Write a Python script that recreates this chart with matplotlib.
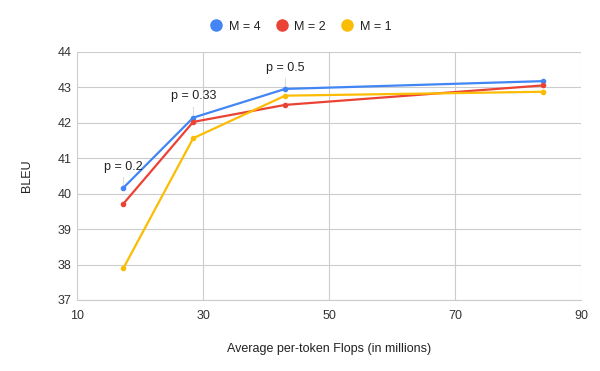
import matplotlib.pyplot as plt
from matplotlib.lines import Line2D

plt.rcParams["font.family"] = ["Liberation Sans", "DejaVu Sans"]

flops = [17.3, 28.4, 43.0, 84.0]
bleu_m4 = [40.16, 42.14, 42.95, 43.17]
bleu_m2 = [39.71, 42.02, 42.50, 43.05]
bleu_m1 = [37.89, 41.56, 42.76, 42.87]
series_names = ["M = 4", "M = 2", "M = 1"]
p_labels = ["p = 0.2", "p = 0.33", "p = 0.5"]
colors = ["#4285F4", "#EA4335", "#FBBC04"]

fig = plt.figure(figsize=(6, 3.71), dpi=100)
ax = fig.add_axes([0.1288, 0.1914, 0.840, 0.6693])

for vals, name, col in zip([bleu_m4, bleu_m2, bleu_m1], series_names, colors):
    ax.plot(flops, vals, color=col, lw=1.6, marker="o", ms=3, label=name,
            solid_capstyle="round", zorder=3)

# data labels with leader lines (on the M = 4 series)
for x, y, lab in zip(flops, bleu_m4, p_labels):
    ax.plot([x, x], [y + 0.07, y + 0.3], color="#dddddd", lw=0.8, zorder=2)
    ax.text(x, y + 0.6, lab, ha="center", va="center", fontsize=9, color="#222222")

ax.set_xlim(10, 90)
ax.set_ylim(37, 44)
ax.set_xticks([10, 30, 50, 70, 90])
ax.set_yticks(range(37, 45))
ax.grid(True, color="#cccccc", lw=0.8)
ax.set_axisbelow(True)
for s in ["top", "right", "left"]:
    ax.spines[s].set_visible(False)
ax.spines["bottom"].set_color("#cccccc")
ax.tick_params(axis="y", length=0, labelsize=9, colors="#333333", pad=4)
ax.tick_params(axis="x", length=0, labelsize=9, colors="#333333", pad=7)
ax.set_xlabel("Average per-token Flops (in millions)", fontsize=9, color="#222222", labelpad=15)
ax.set_ylabel("BLEU", fontsize=9, color="#222222", labelpad=18)

handles = [Line2D([], [], ls="none", marker="o", ms=8, color=c) for c in colors]
fig.legend(handles, series_names, loc="center", bbox_to_anchor=(0.5, 0.928), ncol=3,
           frameon=False, fontsize=9, handletextpad=0.4, columnspacing=1.1,
           handlelength=1.2, labelcolor="#222222")

fig.savefig("out.png", dpi=100, facecolor="white")
